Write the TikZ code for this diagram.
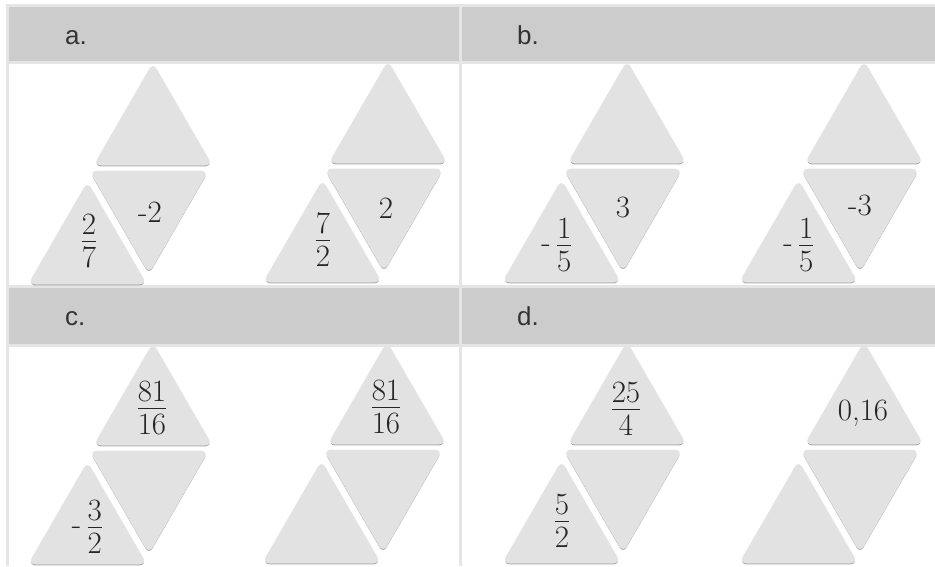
\RequirePackage{fix-cm}
\documentclass[tikz,border=0pt]{standalone}
\usepackage{amsmath}
\usepackage{fontspec}
\setsansfont{Liberation Sans}
\usetikzlibrary{calc,shadows}
\definecolor{hdrgray}{HTML}{CCCCCC}
\definecolor{rulegray}{HTML}{E5E5E5}
\definecolor{tilegray}{HTML}{E2E2E2}
\definecolor{txtgray}{HTML}{333333}

% compact fraction with full-size digits
\newcommand{\fr}[2]{\genfrac{}{}{}{1}%
  {\displaystyle #1\rule[-0.16em]{0pt}{0.2em}}{\displaystyle\rule{0pt}{0.8em}#2}}

% three tiles of one puzzle: apex x, apex y of the top tile
\newcommand{\tiles}[2]{%
  \path[tile] (#1,#2) -- ++(59,102) -- ++(-118,0) -- cycle;
  \path[tile] (#1-63,#2+108) -- ++(118,0) -- ++(-59,102) -- cycle;
  \path[tile] (#1-65.5,#2+119) -- ++(59,102) -- ++(-118,0) -- cycle;
}

\begin{document}
\begin{tikzpicture}[x=1pt, y=-1pt,
    tile/.style={fill=tilegray, draw=white!80!gray, line width=0.6pt, rounded corners=7pt,
      drop shadow={shadow xshift=0pt, shadow yshift=-1.4pt, fill=black, opacity=0.33}},
    rule/.style={draw=rulegray, line width=3pt},
    hdr/.style={font=\sffamily\fontsize{26}{30}\selectfont, text=txtgray, anchor=base west, inner sep=0pt},
    num/.style={font=\fontsize{31}{36}\selectfont, text=black!85, inner sep=0pt}
  ]
    \useasboundingbox (0,0) rectangle (935,566);
    \clip (0,0) rectangle (935,566);

    % Table
    \fill[hdrgray] (7,7) rectangle (935,61);
    \fill[hdrgray] (7,287) rectangle (935,344);
    \draw[rule] (5.5,5.5) -- (935,5.5);
    \draw[rule] (7,5.5) -- (7,566);
    \draw[rule] (7,62) -- (935,62);
    \draw[rule] (7,286) -- (935,286);
    \draw[rule] (7,345) -- (935,345);
    \draw[rule] (460.5,5.5) -- (460.5,566);

    \node[hdr] (ha) at (65,44)  {a.};
    \node[hdr] (hb) at (517,44) {b.};
    \node[hdr] (hc) at (65,325) {c.};
    \node[hdr] (hd) at (517,325) {d.};

    % Tiles
    \tiles{153}{63}
    \tiles{388}{61}
    \tiles{627}{61}
    \tiles{864}{61}
    \tiles{153}{343}
    \tiles{387}{342}
    \tiles{627}{342}
    \tiles{864}{342}

    % a.
    \node[num] (a1m) at (150,212) {-2};
    \node[num] (a1b) at (89,241)  {$\fr{2}{7}$};
    \node[num] (a2m) at (386,208) {2};
    \node[num] (a2b) at (323,240) {$\fr{7}{2}$};

    % b.
    \node[num] (b1m) at (623,207) {3};
    \node[num] (b1b) at (557,245) {-\,$\fr{1}{5}$};
    \node[num] (b2m) at (860,205) {-3};
    \node[num] (b2b) at (799,245) {-\,$\fr{1}{5}$};

    % c.
    \node[num] (c1t) at (152,408) {$\fr{81}{16}$};
    \node[num] (c1b) at (87.5,527) {-\,$\fr{3}{2}$};
    \node[num] (c2t) at (386,407) {$\fr{81}{16}$};

    % d.
    \node[num] (d1t) at (626,409) {$\fr{25}{4}$};
    \node[num] (d1b) at (562,521) {$\fr{5}{2}$};
    \node[num] (d2t) at (863,413) {0,16};
\end{tikzpicture}
\end{document}
